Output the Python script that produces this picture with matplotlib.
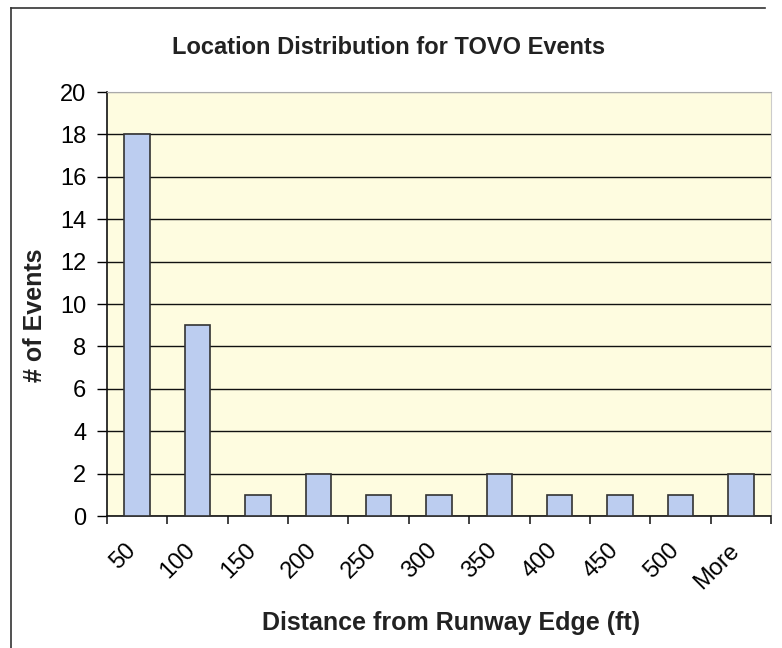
import matplotlib.pyplot as plt
import matplotlib.transforms as mtransforms
from matplotlib.lines import Line2D

# 数据
bins = ['50', '100', '150', '200', '250', '300', '350', '400', '450', '500', 'More']
counts = [18, 9, 1, 2, 1, 1, 2, 1, 1, 1, 2]
yticks = [0, 2, 4, 6, 8, 10, 12, 14, 16, 18, 20]

plt.rcParams['font.family'] = ['Liberation Sans', 'DejaVu Sans']

fig = plt.figure(figsize=(7.82, 6.48), dpi=100)
fig.patch.set_facecolor('white')
ax = fig.add_axes([0.1368, 0.2037, 0.8492, 0.6543])
ax.set_facecolor('#fefce0')

x = list(range(len(bins)))
ax.bar(x, counts, width=0.42, color='#bccdf0', edgecolor='#333333', linewidth=1.2, zorder=3)

ax.set_xlim(-0.5, len(bins) - 0.5)
ax.set_ylim(0, 20)
ax.set_yticks(yticks)
ax.yaxis.grid(True, color='#111111', linewidth=1.0, zorder=1)
ax.yaxis.get_gridlines()[-1].set_color('#aaaaaa')
ax.set_axisbelow(True)

# 类别边界刻度 + 中心标签
ax.set_xticks([i - 0.5 for i in range(len(bins) + 1)])
ax.set_xticklabels([])
ax.set_xticks(x, minor=True)
ax.set_xticklabels(bins, minor=True, rotation=45, ha='right', rotation_mode='anchor', fontsize=17)
ax.tick_params(axis='x', which='minor', length=0, pad=17)
ax.tick_params(axis='x', which='major', direction='out', length=6, width=1.2, color='#222222')
ax.tick_params(axis='y', direction='out', length=7, width=1.0, labelsize=17, pad=8)
offset = mtransforms.ScaledTranslation(-13 / 100, 0, fig.dpi_scale_trans)
for lab in ax.xaxis.get_minorticklabels():
    lab.set_transform(lab.get_transform() + offset)

for s in ['left', 'bottom']:
    ax.spines[s].set_color('#111111')
    ax.spines[s].set_linewidth(1.2)
ax.spines['top'].set_color('#aaaaaa')
ax.spines['right'].set_color('#cccccc')
ax.spines['right'].set_linewidth(0.8)

fig.text(0.497, 0.927, 'Location Distribution for TOVO Events', ha='center', va='center',
         fontsize=17, fontweight='bold', color='#222222')
ax.set_xlabel('Distance from Runway Edge (ft)', fontsize=18, fontweight='bold', color='#222222')
ax.xaxis.set_label_coords(0.518, -0.225)
ax.set_ylabel('# of Events', fontsize=18, fontweight='bold', color='#222222')
ax.yaxis.set_label_coords(-0.09, 0.474)

# 外框
fig.add_artist(Line2D([11 / 782, 11 / 782], [0, 1 - 8 / 648], color='#333333', linewidth=1.2))
fig.add_artist(Line2D([11 / 782, 765 / 782], [1 - 8 / 648, 1 - 8 / 648], color='#333333', linewidth=1.2))

plt.savefig('out.png', dpi=100)
